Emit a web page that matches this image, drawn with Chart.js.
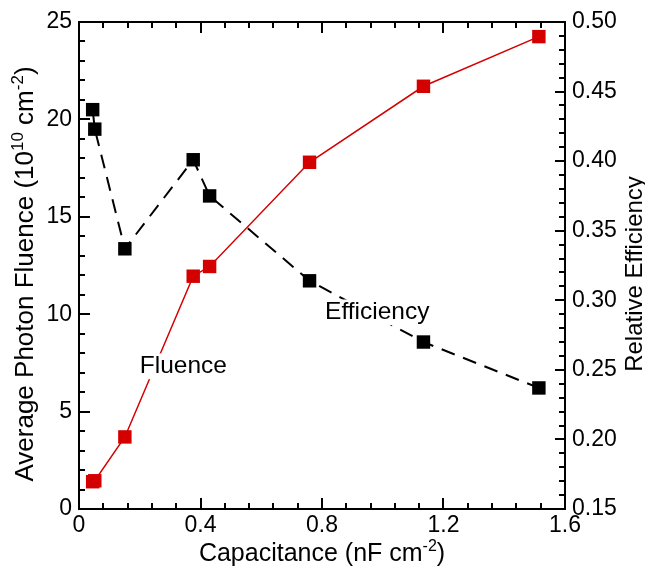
<!DOCTYPE html>
<html><head><meta charset="utf-8">
<script src="https://cdn.jsdelivr.net/npm/chart.js@4.4.0/dist/chart.umd.min.js"></script>
<style>html,body{margin:0;padding:0;background:#fff;}#wrap{width:645px;height:567px;}</style>
</head><body><div id="wrap"><canvas id="c" width="645" height="567"></canvas></div>
<script>
// ---- data ----
const capacitance = [0.045, 0.052, 0.151, 0.376, 0.43, 0.759, 1.134, 1.514];
const fluence     = [1.4, 1.45, 3.7, 11.95, 12.45, 17.8, 21.7, 24.25];
const efficiency  = [0.437, 0.423, 0.337, 0.401, 0.375, 0.314, 0.270, 0.237];
const xTickLabels = ['0', '0.4', '0.8', '1.2', '1.6'];
const leftTickLabels = ['0', '5', '10', '15', '20', '25'];
const rightTickLabels = ['0.15', '0.20', '0.25', '0.30', '0.35', '0.40', '0.45', '0.50'];
const seriesNames = ['Fluence', 'Efficiency'];

const FONT = '"Liberation Sans", Arial, Helvetica, sans-serif';
const RED = '#d40000';

function pts(xs, ys) { return xs.map((x, i) => ({x: x, y: ys[i]})); }

function richText(ctx, parts, x, y, rot, size, supSize, rise) {
  ctx.save();
  ctx.translate(x, y);
  ctx.rotate(rot);
  ctx.textBaseline = 'alphabetic';
  ctx.textAlign = 'left';
  let total = 0;
  parts.forEach(p => { ctx.font = (p.sup ? supSize : size) + 'px ' + FONT; total += ctx.measureText(p.t).width; });
  let cx = -total / 2;
  parts.forEach(p => {
    ctx.font = (p.sup ? supSize : size) + 'px ' + FONT;
    ctx.fillText(p.t, cx, p.sup ? -rise : 0);
    cx += ctx.measureText(p.t).width;
  });
  ctx.restore();
}

function boxedLabel(ctx, text, x, y, size) {
  ctx.font = size + 'px ' + FONT;
  ctx.textAlign = 'left';
  ctx.textBaseline = 'alphabetic';
  const w = ctx.measureText(text).width;
  ctx.fillStyle = '#fff';
  ctx.fillRect(x - 3, y - size * 0.8, w + 6, size * 1.05);
  ctx.fillStyle = '#000';
  ctx.fillText(text, x, y);
}

const framePlugin = {
  id: 'frame',
  afterDatasetsDraw(chart) {
    const ctx = chart.ctx;
    const xs = chart.scales.x, ys = chart.scales.y;
    ctx.save();
    boxedLabel(ctx, seriesNames[0], xs.getPixelForValue(0.20), ys.getPixelForValue(6.98), 24.5);
    boxedLabel(ctx, seriesNames[1], xs.getPixelForValue(0.81), ys.getPixelForValue(9.75), 24.5);
    ctx.restore();
  },
  afterDraw(chart) {
    const ctx = chart.ctx, a = chart.chartArea;
    const xs = chart.scales.x, ys = chart.scales.y, y1 = chart.scales.y1;
    ctx.save();
    ctx.strokeStyle = '#000';
    ctx.lineWidth = 2;
    ctx.strokeRect(a.left, a.top, a.right - a.left, a.bottom - a.top);
    ctx.beginPath();
    for (let i = 0; i <= 20; i++) {
      const px = Math.round(xs.getPixelForValue(i * 0.08));
      const len = i % 5 === 0 ? 11 : 6;
      ctx.moveTo(px, a.bottom); ctx.lineTo(px, a.bottom - len);
      ctx.moveTo(px, a.top); ctx.lineTo(px, a.top + len);
    }
    for (let i = 0; i <= 25; i++) {
      const py = Math.round(ys.getPixelForValue(i));
      const len = i % 5 === 0 ? 11 : 6;
      ctx.moveTo(a.left, py); ctx.lineTo(a.left + len, py);
    }
    for (let i = 0; i <= 35; i++) {
      const py = Math.round(y1.getPixelForValue(0.15 + i * 0.01));
      const len = i % 5 === 0 ? 10 : 6;
      ctx.moveTo(a.right, py); ctx.lineTo(a.right - len, py);
    }
    ctx.stroke();

    ctx.fillStyle = '#000';
    richText(ctx, [{t: 'Capacitance (nF cm'}, {t: '-2', sup: true}, {t: ')'}], (a.left + a.right) / 2, 561, 0, 25, 16, 10);
    richText(ctx, [{t: 'Average Photon Fluence (10'}, {t: '10', sup: true}, {t: ' cm'}, {t: '-2', sup: true}, {t: ')'}], 33, 274, -Math.PI / 2, 26, 17, 10);
    richText(ctx, [{t: 'Relative Efficiency'}], 642, 274, -Math.PI / 2, 24, 16, 10);
    ctx.restore();
  }
};

new Chart(document.getElementById('c'), {
  type: 'line',
  data: {
    datasets: [
      {
        label: seriesNames[0], data: pts(capacitance, fluence), yAxisID: 'y',
        borderColor: RED, borderWidth: 1.5, backgroundColor: RED,
        pointStyle: 'rect', pointRadius: 9.5, pointBackgroundColor: RED, pointBorderWidth: 0,
        tension: 0, order: 2
      },
      {
        label: seriesNames[1], data: pts(capacitance, efficiency), yAxisID: 'y1',
        borderColor: '#000', borderWidth: 2, borderDash: [14, 9], backgroundColor: '#000',
        pointStyle: 'rect', pointRadius: 9.5, pointBackgroundColor: '#000', pointBorderWidth: 0,
        tension: 0, order: 1
      }
    ]
  },
  options: {
    responsive: false, animation: false, devicePixelRatio: 1,
    layout: {padding: {top: 22, left: 0, right: 0, bottom: 0}},
    plugins: {legend: {display: false}, tooltip: {enabled: false}},
    scales: {
      x: {
        type: 'linear', position: 'bottom', min: 0, max: 1.6,
        grid: {display: false, drawTicks: false}, border: {display: false},
        ticks: {stepSize: 0.4, autoSkip: false, maxRotation: 0, padding: 3, color: '#000',
          font: {size: 23, family: FONT},
          callback: (v, i) => xTickLabels[i]},
        afterFit: s => { s.height = 58; }
      },
      y: {
        type: 'linear', position: 'left', min: 0, max: 25,
        grid: {display: false, drawTicks: false}, border: {display: false},
        ticks: {stepSize: 5, padding: 7, color: '#000', font: {size: 23, family: FONT},
          callback: (v, i) => leftTickLabels[i]},
        afterFit: s => { s.width = 79; }
      },
      y1: {
        type: 'linear', position: 'right', min: 0.15, max: 0.50,
        grid: {display: false, drawTicks: false}, border: {display: false},
        ticks: {stepSize: 0.05, padding: 7, color: '#000', font: {size: 23, family: FONT},
          callback: (v, i) => rightTickLabels[i]},
        afterFit: s => { s.width = 80; }
      }
    }
  },
  plugins: [framePlugin]
});
</script>
</body></html>
